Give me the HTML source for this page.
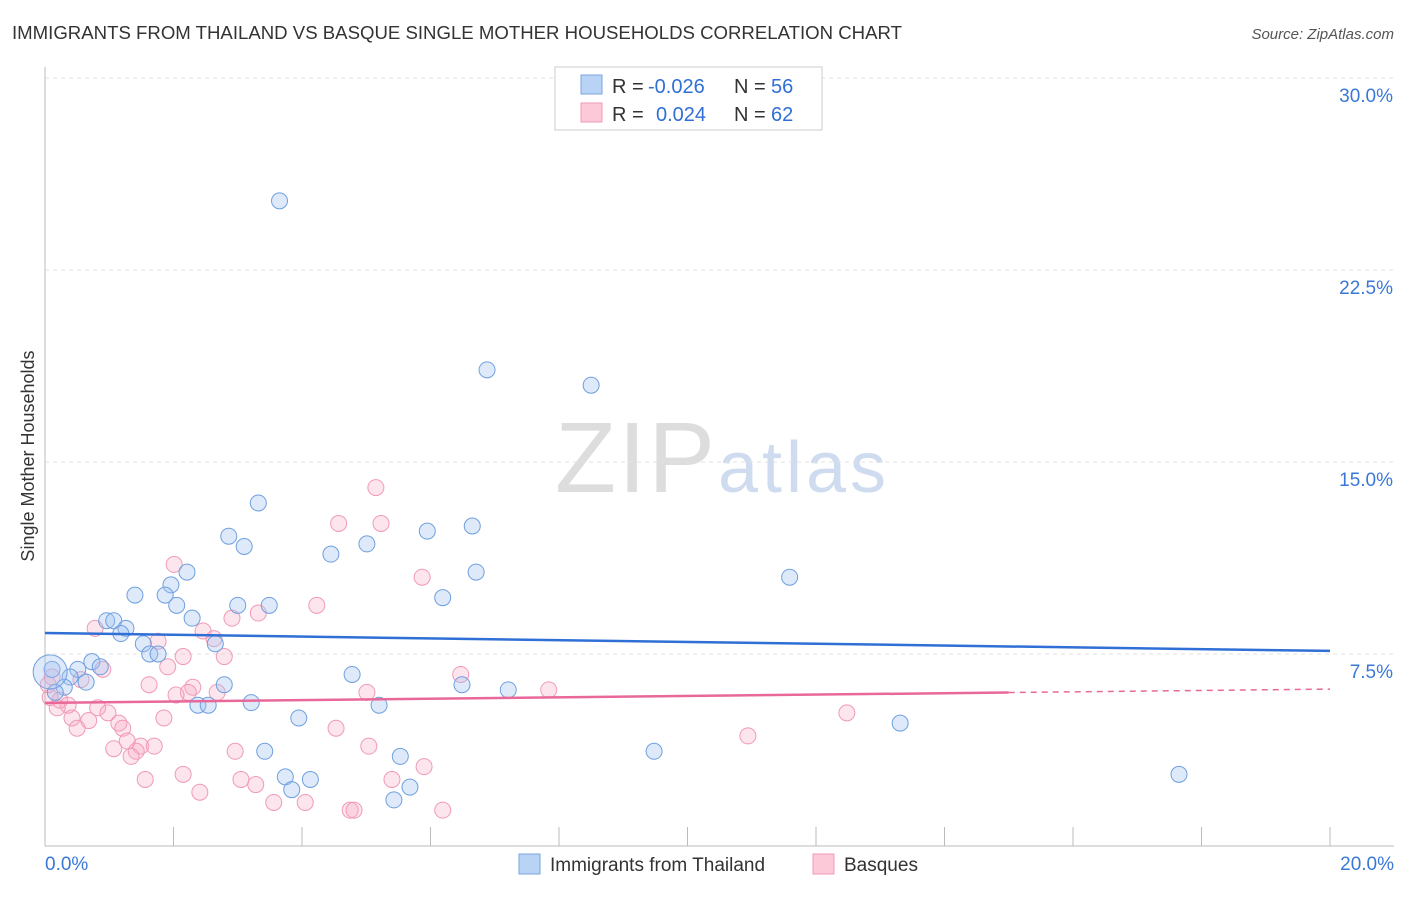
<!DOCTYPE html>
<html><head><meta charset="utf-8"><style>
body{margin:0;background:#fff;font-family:"Liberation Sans",sans-serif;}
svg text{font-family:"Liberation Sans",sans-serif;}
</style></head><body>
<svg id="c" width="1406" height="892" xmlns="http://www.w3.org/2000/svg">
<text x="12" y="39" font-size="18" fill="#333" textLength="890" lengthAdjust="spacingAndGlyphs">IMMIGRANTS FROM THAILAND VS BASQUE SINGLE MOTHER HOUSEHOLDS CORRELATION CHART</text>
<text x="1394" y="39" font-size="15" fill="#555" text-anchor="end" font-style="italic">Source: ZipAtlas.com</text>
<text x="34" y="456" font-size="18" fill="#333" text-anchor="middle" transform="rotate(-90 34 456)">Single Mother Households</text>
<text x="555" y="492" font-size="100" fill="#ddd" font-family="Liberation Serif" textLength="160">ZIP</text>
<text x="718" y="492" font-size="72" fill="#cfdcf0" textLength="168">atlas</text>
<g id="grid"></g><g id="pts"></g><g id="lines"></g>
<g>
<rect x="555" y="67" width="267" height="63" fill="#fff" stroke="#ccc"/>
<rect x="581" y="75" width="21" height="19" fill="#b9d3f5" stroke="#7aa6e0"/>
<rect x="581" y="103" width="21" height="19" fill="#fcc9d8" stroke="#f09ab6"/>
<text x="612" y="93" font-size="20" fill="#333">R = <tspan fill="#2f6fd6" x="648">-0.026</tspan><tspan x="734">N = </tspan><tspan fill="#2f6fd6" x="771">56</tspan></text>
<text x="612" y="121" font-size="20" fill="#333">R = <tspan fill="#2f6fd6" x="656">0.024</tspan><tspan x="734">N = </tspan><tspan fill="#2f6fd6" x="771">62</tspan></text>
</g>
<g>
<rect x="519" y="854" width="21" height="20" fill="#b9d3f5" stroke="#7aa6e0"/>
<text x="550" y="871" font-size="19" fill="#333">Immigrants from Thailand</text>
<rect x="813" y="854" width="21" height="20" fill="#fcc9d8" stroke="#f09ab6"/>
<text x="844" y="871" font-size="19" fill="#333">Basques</text>
</g>
<text x="45" y="870" font-size="19" fill="#3a78d8">0.0%</text>
<text x="1394" y="870" font-size="19" fill="#3a78d8" text-anchor="end">20.0%</text>
</svg>
<script>
const yTicks=[7.5,15,22.5,30];
const yTickLabels=["7.5%","15.0%","22.5%","30.0%"];
const xTicks=[0,2,4,6,8,10,12,14,16,18,20];
const thaiX=[3.65,6.88,8.50,3.32,2.86,3.10,5.95,6.65,4.45,5.01,6.71,11.59,2.21,1.96,1.40,1.87,6.19,2.05,3.00,3.49,2.29,0.96,1.07,1.26,1.18,1.53,1.63,1.76,2.65,0.73,0.51,0.86,0.39,0.64,0.30,0.16,0.11,2.79,4.78,6.49,7.21,3.21,2.38,2.54,5.20,3.95,13.31,3.42,5.53,9.48,3.74,4.13,3.84,5.68,5.43,17.65];
const thaiY=[25.2,18.6,18.0,13.4,12.1,11.7,12.3,12.5,11.4,11.8,10.7,10.5,10.7,10.2,9.8,9.8,9.7,9.4,9.4,9.4,8.9,8.8,8.8,8.5,8.3,7.9,7.5,7.5,7.9,7.2,6.9,7.0,6.6,6.4,6.2,6.0,6.9,6.3,6.7,6.3,6.1,5.6,5.5,5.5,5.5,5.0,4.8,3.7,3.5,3.7,2.7,2.6,2.2,2.3,1.8,2.8];
const basqX=[5.15,4.57,5.23,2.01,5.87,4.23,3.32,2.91,0.78,2.46,2.63,1.76,2.79,1.91,2.15,0.90,0.56,1.62,2.30,2.23,2.04,2.68,5.01,6.47,7.84,0.11,0.23,0.36,0.19,0.42,0.82,0.98,0.68,1.15,1.85,0.50,1.21,4.53,12.48,10.94,2.96,1.28,1.49,1.70,1.07,1.42,1.34,5.04,5.90,1.56,2.15,3.05,3.28,5.40,2.41,3.56,4.05,4.75,4.81,6.19,0.08,0.05];
const basqY=[14.0,12.6,12.6,11.0,10.5,9.4,9.1,8.9,8.5,8.4,8.1,8.0,7.4,7.0,7.4,6.9,6.5,6.3,6.2,6.0,5.9,6.0,6.0,6.7,6.1,6.6,5.7,5.5,5.4,5.0,5.4,5.2,4.9,4.8,5.0,4.6,4.6,4.6,5.2,4.3,3.7,4.1,3.9,3.9,3.8,3.7,3.5,3.9,3.1,2.6,2.8,2.6,2.4,2.6,2.1,1.7,1.7,1.4,1.4,1.4,5.8,6.3];
const thaiTrend=[8.32,7.62];
const basqTrend=[5.59,6.13];
const X=v=>45+v/20*1285, Y=v=>846-v*25.6;
const NS="http://www.w3.org/2000/svg";
function mk(t,a,p){const e=document.createElementNS(NS,t);for(const k in a)e.setAttribute(k,a[k]);p.appendChild(e);return e;}
const grid=document.getElementById('grid');
yTicks.forEach((v,i)=>{
 const l=mk('line',{x1:45,x2:1394,y1:Y(v),y2:Y(v),stroke:'#e2e2e2','stroke-dasharray':'4 4'},grid);
 
 
 const t=mk('text',{x:1393,y:Y(v)+24,'font-size':19,fill:'#3a78d8','text-anchor':'end'},grid);
 t.textContent=yTickLabels[i];
 
 
});
mk('line',{x1:45,x2:45,y1:67,y2:846,stroke:'#bbb'},grid);
mk('line',{x1:45,x2:1394,y1:846,y2:846,stroke:'#bbb'},grid);
xTicks.forEach(v=>{const l=mk('line',{x1:X(v),x2:X(v),y1:827,y2:846,stroke:'#bbb'},grid);
 
 });
const pts=document.getElementById('pts');
basqX.forEach((x,i)=>{const c=mk('circle',{cx:X(x),cy:Y(basqY[i]),r:8,fill:'rgba(248,170,195,0.3)',stroke:'#f09ab6','stroke-width':1},pts);
 
 });
thaiX.forEach((x,i)=>{const c=mk('circle',{cx:X(x),cy:Y(thaiY[i]),r:8,fill:'rgba(160,195,240,0.35)',stroke:'#6f9fdf','stroke-width':1},pts);
 
 });
const big=mk('circle',{cx:X(0.08),cy:Y(6.8),r:17,fill:'rgba(160,195,240,0.35)',stroke:'#6f9fdf'},pts);


const lines=document.getElementById('lines');
const tl=mk('line',{x1:X(0),y1:Y(thaiTrend[0]),x2:X(20),y2:Y(thaiTrend[1]),stroke:'#2f6fd6','stroke-width':2.5},lines);


const bm=basqTrend[0]+(basqTrend[1]-basqTrend[0])*0.75;
const bl=mk('line',{x1:X(0),y1:Y(basqTrend[0]),x2:X(15),y2:Y(bm),stroke:'#e8689a','stroke-width':2.5},lines);


const bd=mk('line',{x1:X(15),y1:Y(bm),x2:X(20),y2:Y(basqTrend[1]),stroke:'#e8689a','stroke-width':1.5,'stroke-dasharray':'6 5'},lines);


</script>
</body></html>
